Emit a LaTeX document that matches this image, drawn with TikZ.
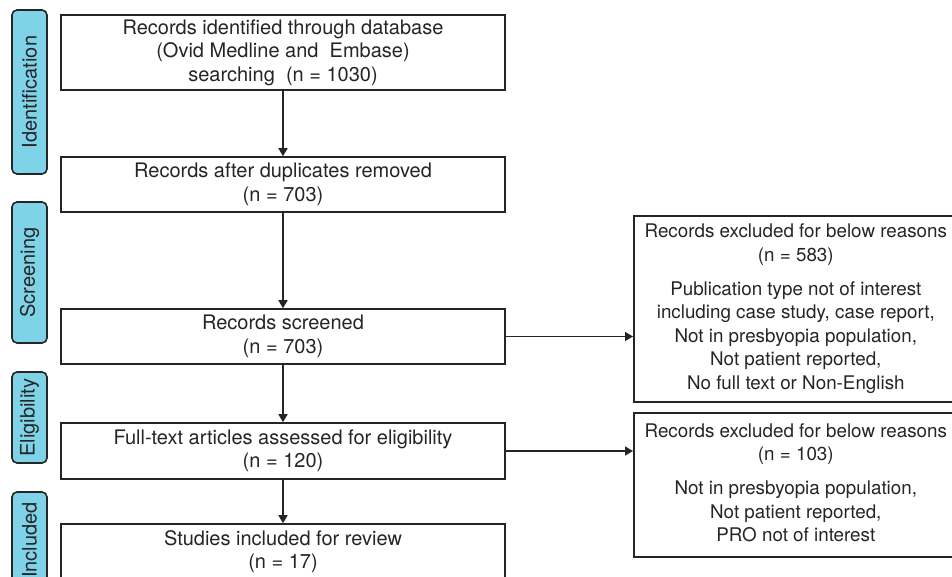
\documentclass[tikz,border=0pt]{standalone}
\usepackage{fontspec}
\setmainfont{TeX Gyre Heros}
\usetikzlibrary{arrows.meta}
\definecolor{stagecyan}{RGB}{127,211,232}
\definecolor{inkgray}{RGB}{38,36,37}
% text block centred at the left of a wider box, so that the box runs off the page
\newcommand{\sidetext}[1]{\makebox[400pt][l]{\makebox[324pt]{\begin{tabular}{@{}c@{}}#1\end{tabular}}}}

\begin{document}
\begin{tikzpicture}[x=1pt, y=-1pt,
        box/.style={draw=inkgray, line width=1.6pt, minimum width=444pt, align=center, inner sep=0pt, text=inkgray, font=\fontsize{20}{23.5}\selectfont},
        sidebox/.style={box, minimum width=0pt, anchor=west, font=\fontsize{18.8}{23.5}\selectfont},
        stage/.style={draw=inkgray, line width=1.6pt, fill=stagecyan, rounded corners=5pt, rotate=90, minimum height=35pt, inner sep=0pt, text=inkgray, font=\fontsize{20}{24}\selectfont},
        flow/.style={draw=inkgray, line width=1.6pt, -{Triangle[width=9pt, length=8pt]}}]
        \useasboundingbox (0, 0) rectangle (952, 577);

        \node[stage, minimum width=164pt] (ident) at (29.5, 92) {Identification};
        \node[stage, minimum width=141pt] (screen) at (29.5, 272.5) {Screening};
        \node[stage, minimum width=91pt] (elig) at (29.5, 417.5) {Eligibility};
        \node[stage, minimum width=96pt] (incl) at (29.5, 540) {Included};

        \node[box, minimum height=75pt] (found) at (283, 52.5)
            {Records identified through database\\(Ovid Medline and\ \ Embase)\\searching\ \ (n = 1030)};
        \node[box, minimum height=55pt] (dedup) at (283, 184.5) {Records after duplicates removed\\(n = 703)};
        \node[box, minimum height=55pt] (screened) at (283, 336.5) {Records screened\\(n = 703)};
        \node[box, minimum height=56pt] (fulltext) at (283, 451) {Full-text articles assessed for eligibility\\(n = 120)};
        \node[box, minimum height=55pt] (studies) at (283, 551.5) {Studies included for review\\(n = 17)};

        \node[sidebox, minimum height=186pt] (dropA) at (633, 309)
            {\sidetext{Records excluded for below reasons\\(n = 583)\\[10.5pt]
             Publication type not of interest\\including case study, case report,\\Not in presbyopia population,\\Not patient reported,\\No full text or Non-English}};
        \node[sidebox, minimum height=144pt] (dropB) at (633, 485)
            {\sidetext{Records excluded for below reasons\\(n = 103)\\[10.5pt]
             Not in presbyopia population,\\Not patient reported,\\PRO not of interest}};

        \draw[flow] (found) -- (dedup);
        \draw[flow] (dedup) -- (screened);
        \draw[flow] (screened) -- (fulltext);
        \draw[flow] (fulltext) -- (studies);
        \draw[flow] (screened.east) -- (screened.east -| dropA.west);
        \draw[flow] (fulltext.east) -- (fulltext.east -| dropB.west);
    \end{tikzpicture}
\end{document}
